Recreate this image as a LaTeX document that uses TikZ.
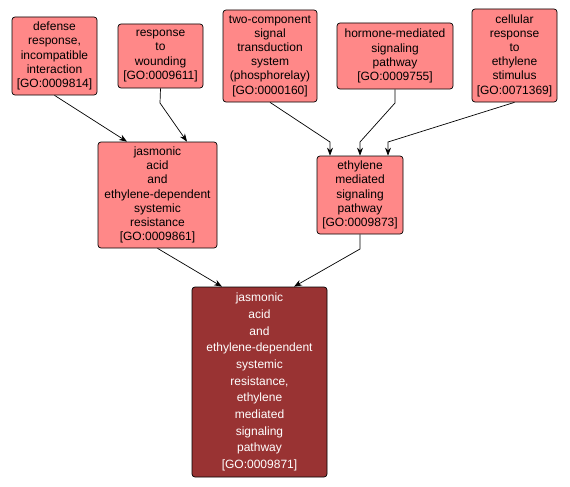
\documentclass[tikz,border=0pt]{standalone}
\usepackage{fontspec}
\setmainfont{Liberation Sans}
\usetikzlibrary{arrows.meta}
\definecolor{lightgo}{RGB}{255,136,136}
\definecolor{darkgo}{RGB}{153,51,51}
\tikzset{
  gobox/.style={draw=black, line width=0.7pt, fill=lightgo, rounded corners=3pt, align=center, inner sep=0pt, font=\fontsize{12}{14.2}\selectfont},
  mainbox/.style={gobox, fill=darkgo, text=white, font=\fontsize{12}{16.7}\selectfont},
  goedge/.style={draw=black, line width=0.7pt, -{Stealth[length=8pt,width=6pt]}}
}
\begin{document}
\begin{tikzpicture}[x=1pt,y=-1pt]
\useasboundingbox (0,0) rectangle (570,487);
\node[gobox, minimum width=85pt, minimum height=78pt] (n1) at (54.5,56) {defense\\response,\\incompatible\\interaction\\{[GO:0009814]}};
\node[gobox, minimum width=85pt, minimum height=64pt] (n2) at (160.5,56) {response\\to\\wounding\\{[GO:0009611]}};
\node[gobox, minimum width=94pt, minimum height=92pt] (n3) at (270,56) {two-component\\signal\\transduction\\system\\(phosphorelay)\\{[GO:0000160]}};
\node[gobox, minimum width=116pt, minimum height=66pt] (n4) at (395,56) {hormone-mediated\\signaling\\pathway\\{[GO:0009755]}};
\node[gobox, minimum width=85pt, minimum height=93pt] (n5) at (514.5,55.5) {cellular\\response\\to\\ethylene\\stimulus\\{[GO:0071369]}};
\node[gobox, minimum width=119pt, minimum height=106pt] (n6) at (157.5,195) {jasmonic\\acid\\and\\ethylene-dependent\\systemic\\resistance\\{[GO:0009861]}};
\node[gobox, minimum width=86pt, minimum height=78pt] (n7) at (360,195) {ethylene\\mediated\\signaling\\pathway\\{[GO:0009873]}};
\node[mainbox, minimum width=135pt, minimum height=190pt] (n8) at (259.5,382) {jasmonic\\acid\\and\\ethylene-dependent\\systemic\\resistance,\\ethylene\\mediated\\signaling\\pathway\\{[GO:0009871]}};
\draw[goedge] (n1.south) -- (n6.north -| 127,0);
\draw[goedge] (n2.south) -- (160,103) -- (n6.north -| 187,0);
\draw[goedge] (n3.south) -- (330,142) -- (n7.north -| 330,0);
\draw[goedge] (n4.south) -- (395,103) -- (360,142) -- (n7.north);
\draw[goedge] (n5.south) -- (388,142) -- (n7.north -| 388,0);
\draw[goedge] (n6.south) -- (n8.north -| 222,0);
\draw[goedge] (n7.south) -- (360,249) -- (n8.north -| 294,0);
\end{tikzpicture}
\end{document}
